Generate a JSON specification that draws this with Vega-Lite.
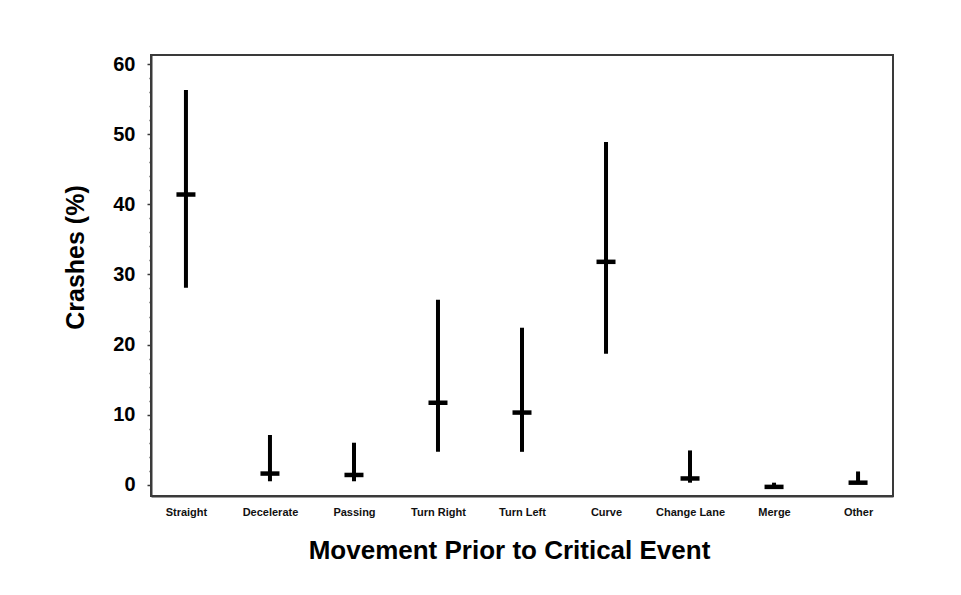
{
  "$schema": "https://vega.github.io/schema/vega-lite/v6.json",
  "autosize": {"type": "none"},
  "width": 742,
  "height": 441,
  "padding": {"left": 151, "top": 55, "right": 68, "bottom": 99},
  "background": "white",
  "config": {
    "view": {"stroke": "#3a3a3a", "strokeWidth": 2},
    "font": "Liberation Sans"
  },
  "data": {
    "values": [
      {"movement": "Straight", "mid": 41.4, "low": 28.1, "high": 56.3},
      {"movement": "Decelerate", "mid": 1.6, "low": 0.5, "high": 7.1},
      {"movement": "Passing", "mid": 1.4, "low": 0.5, "high": 6.0},
      {"movement": "Turn Right", "mid": 11.7, "low": 4.7, "high": 26.4},
      {"movement": "Turn Left", "mid": 10.3, "low": 4.7, "high": 22.4},
      {"movement": "Curve", "mid": 31.8, "low": 18.7, "high": 48.9},
      {"movement": "Change Lane", "mid": 0.9, "low": 0.3, "high": 4.9},
      {"movement": "Merge", "mid": -0.3, "low": -0.3, "high": 0.3},
      {"movement": "Other", "mid": 0.3, "low": 0.3, "high": 1.9}
    ]
  },
  "encoding": {
    "x": {
      "field": "movement",
      "type": "nominal",
      "sort": null,
      "scale": {"type": "point", "padding": 0.416},
      "axis": {
        "title": "Movement  Prior to Critical Event",
        "titleFont": "Liberation Sans",
        "titleFontSize": 26,
        "titleFontWeight": "bold",
        "titleColor": "#000000",
        "titleX": 358,
        "titleY": 62,
        "titleBaseline": "alphabetic",
        "labelAngle": 0,
        "labelOverlap": false,
        "labelFont": "Liberation Sans",
        "labelFontSize": 11,
        "labelFontWeight": "bold",
        "labelColor": "#111111",
        "labelPadding": 10,
        "ticks": false,
        "domainColor": "#3a3a3a",
        "domainWidth": 2,
        "grid": false
      }
    }
  },
  "layer": [
    {
      "mark": {"type": "rule", "color": "#000000", "strokeWidth": 4},
      "encoding": {
        "y": {
          "field": "low",
          "type": "quantitative",
          "scale": {"domain": [-1.6, 61.3], "nice": false, "zero": false},
          "axis": {
            "title": "Crashes (%)",
            "titleFont": "Liberation Sans",
            "titleFontSize": 25,
            "titleFontWeight": "bold",
            "titleColor": "#000000",
            "titleX": -76,
            "titleY": 202,
            "titleBaseline": "middle",
            "values": [0, 2, 4, 6, 8, 10, 12, 14, 16, 18, 20, 22, 24, 26, 28, 30, 32, 34, 36, 38, 40, 42, 44, 46, 48, 50, 52, 54, 56, 58, 60],
            "tickCount": 40,
            "labelExpr": "datum.value % 10 === 0 ? datum.label : ''",
            "labelOverlap": false,
            "labelFont": "Liberation Sans",
            "labelFontSize": 20,
            "labelFontWeight": "bold",
            "labelColor": "#000000",
            "labelPadding": 12,
            "tickSize": {"condition": {"test": "datum.value % 10 === 0", "value": 4}, "value": 2},
            "tickColor": "#3a3a3a",
            "tickWidth": 1.5,
            "domainColor": "#3a3a3a",
            "domainWidth": 2,
            "grid": false
          }
        },
        "y2": {"field": "high"}
      }
    },
    {
      "mark": {"type": "tick", "color": "#000000", "thickness": 4.5, "size": 19, "opacity": 1},
      "encoding": {
        "y": {"field": "mid", "type": "quantitative"}
      }
    }
  ]
}
